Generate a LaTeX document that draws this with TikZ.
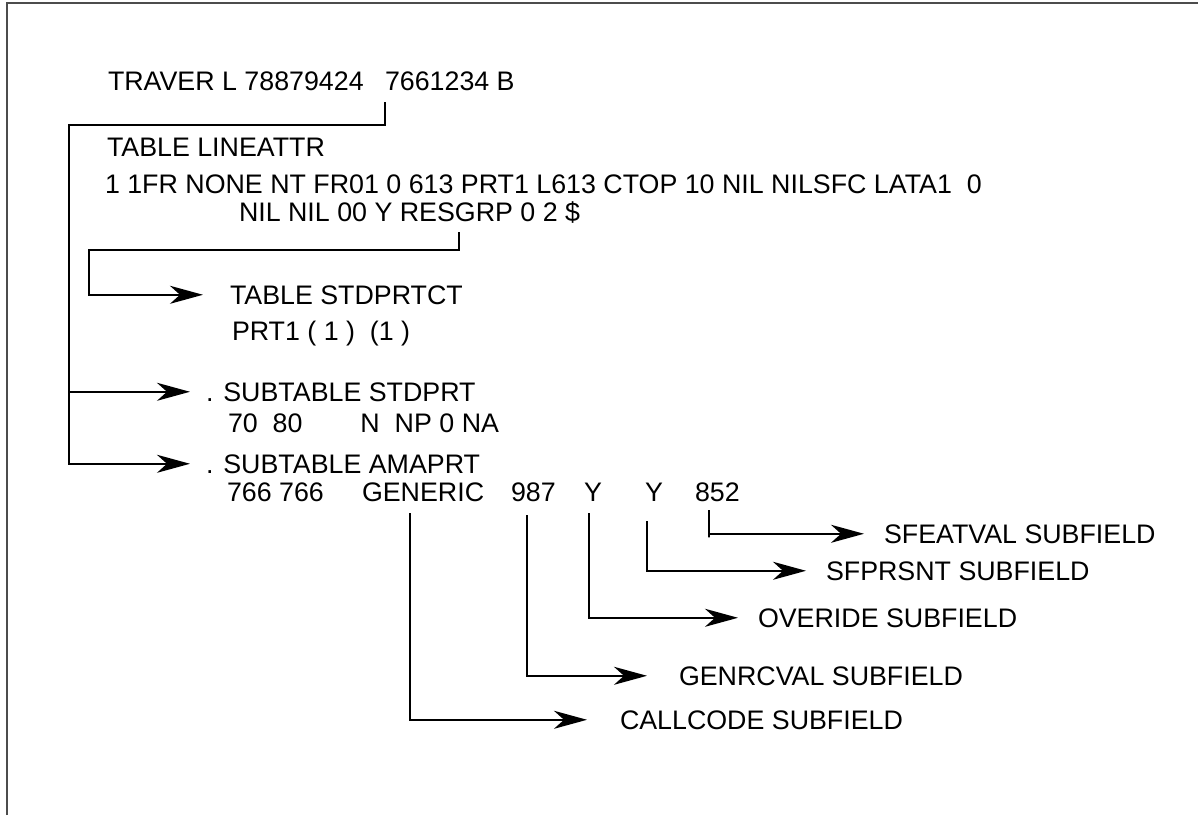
\documentclass[tikz,border=0pt]{standalone}
\usepackage{fontspec}
\setmainfont{Liberation Sans}
\usepackage{xcolor}
\usepackage{tikz}
\usetikzlibrary{arrows.meta}
\usetikzlibrary{calc, positioning}
\tikzstyle{txt}=[anchor=base west, inner sep=0pt, outer sep=0pt]
\tikzstyle{tap}=[->, shorten >=20pt]

\begin{document}
\begin{tikzpicture}[x=1pt, y=-1pt]

\tikzset{>={Stealth[length=33pt, width=18pt, inset=10pt]}}
\tikzset{every node/.style={font=\fontsize{26.8pt}{30pt}\selectfont}}
\tikzset{every path/.style={line width=1.9pt}}

\useasboundingbox (0,0) rectangle (1198,815);

% Frame
\draw[black!70] (7,815) -- (7,3) -- (1198,3);

% Table lines
\node[txt] (trav) at (108,90) {TRAVER L 78879424};
\node[txt] (dn) at (385,90) {7661234 B};
\node[txt] (lineattr) at (107,156) {TABLE LINEATTR};
\node[txt] (rowA) at (105,193) {1 1FR NONE NT FR01 0 613 PRT1 L613 CTOP 10 NIL NILSFC LATA1\ \ 0};
\node[txt] (rowB) at (239,221) {NIL NIL 00 Y RESGRP 0 2 \$};
\node[txt] (stdprtct) at (230,304) {TABLE STDPRTCT};
\node[txt] (prt) at (232,340) {PRT1 ( 1 )\ \ (1 )};
\node[txt] (stdprt) at (206,401) {. SUBTABLE STDPRT};
\node[txt] (rowC) at (228,432) {70\ \ 80\hspace{58pt}N\ \ NP 0 NA};
\node[txt] (amaprt) at (206,473) {. SUBTABLE AMAPRT};

% AMAPRT fields
\node[txt] (n766) at (227,501) {766 766};
\node[txt] (gen) at (362,501) {GENERIC};
\node[txt] (n987) at (511,501) {987};
\node[txt] (y1) at (584,501) {Y};
\node[txt] (y2) at (645,501) {Y};
\node[txt] (n852) at (695,501) {852};

% Subfield names
\node[txt] (sfeatval) at (884,543) {SFEATVAL SUBFIELD};
\node[txt] (sfprsnt) at (826,580) {SFPRSNT SUBFIELD};
\node[txt] (overide) at (758,627) {OVERIDE SUBFIELD};
\node[txt] (genrcval) at (679,685) {GENRCVAL SUBFIELD};
\node[txt] (callcode) at (620,729) {CALLCODE SUBFIELD};

\coordinate (busTop) at (69,125);
\coordinate (resTap) at (459,232);
\coordinate (loopL) at (89,250);

% Arrows from the line entry
\draw[tap, shorten >=16pt] ([yshift=-12pt]dn.south west) |- (busTop) |- (amaprt.west); % 7661234 -> AMAPRT
\draw[tap, shorten >=16pt] (busTop |- stdprt.west) -- (stdprt.west); % -> STDPRT
\draw[tap, shorten >=27pt] (resTap) |- (loopL) |- (stdprtct.west); % RESGRP -> STDPRTCT

% Arrows to the subfields
\draw[tap] ([xshift=14pt, yshift=-9pt]n852.south west) -- ++(0,-27pt) |- (sfeatval.west); % 852 -> SFEATVAL
\draw[tap] ([xshift=2pt, yshift=-20pt]y2.south west) |- (sfprsnt.west); % Y -> SFPRSNT
\draw[tap] ([xshift=5pt, yshift=-12pt]y1.south west) |- (overide.west); % Y -> OVERIDE
\draw[tap, shorten >=32pt] ([xshift=16pt, yshift=-14pt]n987.south west) |- (genrcval.west); % 987 -> GENRCVAL
\draw[tap, shorten >=33pt] ([xshift=48pt, yshift=-12pt]gen.south west) |- (callcode.west); % GENERIC -> CALLCODE

\end{tikzpicture}
\end{document}
